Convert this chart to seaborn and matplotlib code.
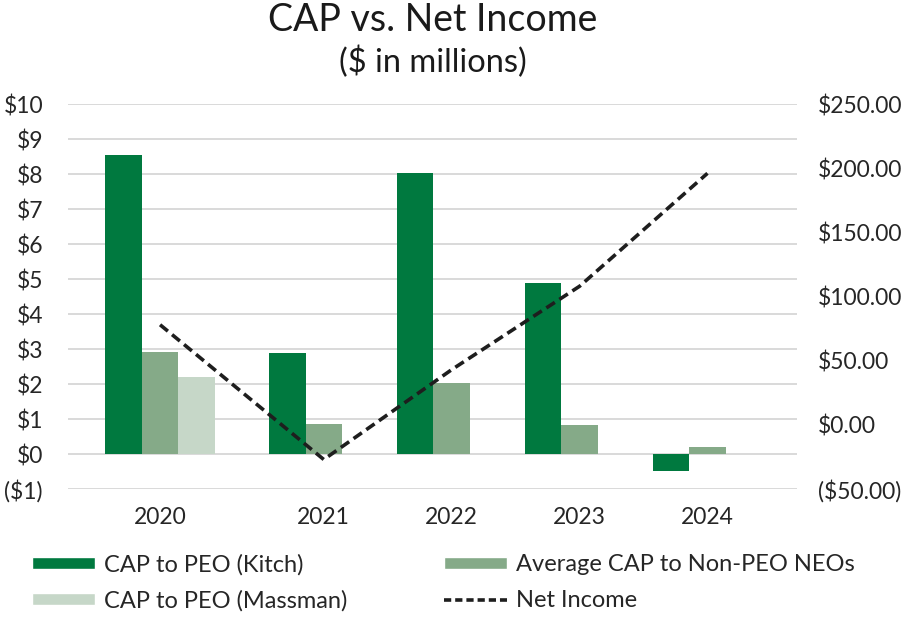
import numpy as np
import pandas as pd
import matplotlib
matplotlib.use('Agg')
import matplotlib.pyplot as plt
from matplotlib.ticker import FuncFormatter, MultipleLocator
from matplotlib.patches import Patch
from matplotlib.lines import Line2D
import seaborn as sns

sns.set_theme(style='white')
plt.rcParams['font.family'] = ['Lato', 'DejaVu Sans']

# Data
years = ['2020', '2021', '2022', '2023', '2024']
cap_kitch = [8.54, 2.89, 8.03, 4.89, -0.48]
cap_avg_neo = [2.91, 0.87, 2.04, 0.84, 0.21]
cap_massman = [2.21, np.nan, np.nan, np.nan, np.nan]
net_income = [78, -27, 43, 108, 196]

# Layout: category centres on the x axis (first gap is wider in the original)
year_pos = [0.0, 1.28, 2.28, 3.28, 4.28]

series_names = ['CAP to PEO (Kitch)', 'Average CAP to Non-PEO NEOs', 'CAP to PEO (Massman)']
colors = ['#00793F', '#85AA88', '#C6D7C8']
line_color = '#1E1E1E'
text_color = '#262626'

rows = []
for name, vals in zip(series_names, [cap_kitch, cap_avg_neo, cap_massman]):
    for p, v in zip(year_pos, vals):
        if not np.isnan(v):
            rows.append({'pos': p, 'value': v, 'series': name})
df = pd.DataFrame(rows)
df_ni = pd.DataFrame({'pos': year_pos, 'net_income': net_income})

fig = plt.figure(figsize=(9.03, 6.18), dpi=100)
ax = fig.add_axes([0.0753, 0.2087, 0.8073, 0.623])

sns.barplot(data=df, x='pos', y='value', hue='series', hue_order=series_names,
            palette=colors, native_scale=True, width=0.855, gap=0, dodge=True,
            errorbar=None, saturation=1, legend=False, linewidth=0, edgecolor='none',
            ax=ax, zorder=2)

ax.set_ylim(-1, 10)
ax.yaxis.set_major_locator(MultipleLocator(1))
ax.yaxis.set_major_formatter(FuncFormatter(lambda v, _: f'(${abs(v):.0f})' if v < 0 else f'${v:.0f}'))
ax.set_xlim(-0.72, 4.98)
ax.set_xticks(year_pos)
ax.set_xticklabels(years)
ax.grid(axis='y', color='#D9D9D9', linewidth=1.4, zorder=0)
ax.set_axisbelow(True)
for s in ax.spines.values():
    s.set_visible(False)
ax.tick_params(axis='both', length=0, labelsize=16.5, colors=text_color)
ax.tick_params(axis='x', pad=13)
ax.tick_params(axis='y', pad=18)
ax.set_xlabel('')
ax.set_ylabel('')

ax2 = ax.twinx()
sns.lineplot(data=df_ni, x='pos', y='net_income', color=line_color, linewidth=2.6,
             linestyle=(0, (2.8, 1.5)), ax=ax2, zorder=3)
ax2.set_ylim(-50, 250)
ax2.yaxis.set_major_locator(MultipleLocator(50))
ax2.yaxis.set_major_formatter(FuncFormatter(lambda v, _: f'(${abs(v):.2f})' if v < 0 else f'${v:.2f}'))
for s in ax2.spines.values():
    s.set_visible(False)
ax2.tick_params(axis='y', length=0, labelsize=16.5, colors=text_color, pad=15)
ax2.set_ylabel('')
ax2.grid(False)

fig.text(0.479, 0.967, 'CAP vs. Net Income', ha='center', va='center', fontsize=27, color='#1a1a1a')
fig.text(0.479, 0.899, '($ in millions)', ha='center', va='center', fontsize=23.5, color='#1a1a1a')

handles = [Patch(facecolor=colors[0]), Patch(facecolor=colors[2]),
           Patch(facecolor=colors[1]),
           Line2D([], [], color=line_color, linewidth=2.6, linestyle=(0, (2.0, 1.1)))]
labels = [series_names[0], series_names[2], series_names[1], 'Net Income']
fig.legend(handles, labels, ncol=2, loc='lower left', bbox_to_anchor=(0.025, -0.005),
           borderaxespad=0, frameon=False, fontsize=17, handlelength=2.67, handleheight=0.42,
           handletextpad=0.38, columnspacing=4.1, labelspacing=0.63, labelcolor=text_color)

fig.savefig('out.png', dpi=100)
